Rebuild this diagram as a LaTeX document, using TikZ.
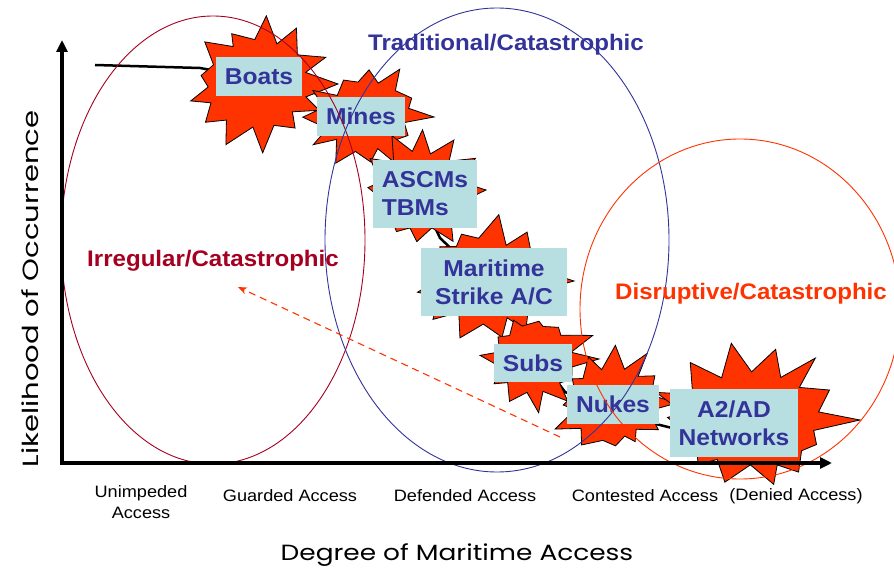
\documentclass[tikz,border=0pt]{standalone}
\usepackage{fontspec}
\setmainfont{Liberation Sans}
\newfontfamily\lblfont{Liberation Sans}[FakeStretch=1.07]
\newfontfamily\tickfont{Liberation Sans}[FakeStretch=1.1]
\newfontfamily\axisfont{Poppins}[FakeStretch=1.2]
\newfontfamily\axisfontwide{Poppins}[FakeStretch=1.32]
\usetikzlibrary{arrows.meta}
\definecolor{boxfill}{HTML}{B7DEE0}
\definecolor{navy}{HTML}{333399}
\definecolor{burstred}{HTML}{FF3300}
\definecolor{wine}{HTML}{A50021}
\tikzset{
  burststyle/.style={fill=burstred, draw=black, line width=0.8pt, line join=miter},
  threat/.style={fill=boxfill, text=navy, inner sep=0pt, align=center,
    font=\lblfont\bfseries\fontsize{23}{28}\selectfont},
  catlabel/.style={font=\lblfont\bfseries\fontsize{22.5}{27}\selectfont, inner sep=0pt},
  ticklabel/.style={font=\tickfont\fontsize{16.5}{21}\selectfont, inner sep=0pt, align=center},
  axistitle/.style={font=\axisfont\fontsize{22}{26}\selectfont, inner sep=0pt},
  axisline/.style={line width=3.5pt, -{Triangle[length=12pt,width=11pt]}},
  trend/.style={line width=2.5pt, black},
  zone/.style={line width=0.9pt},
  drift/.style={burstred, line width=1.1pt, dash pattern=on 7pt off 5pt, -{Stealth[length=9pt,width=7pt]}}
}
\newcommand\burstshape[6]{%
  \pgfmathsetseed{#6}%
  \draw[burststyle] ({#1+#3},{#2})
    \foreach \k [evaluate=\k as \ang using {\k*360/(#5+1)+5*rand},
                 evaluate=\k as \rad using {ifthenelse(mod(\k,2)==0,0.84+0.16*rand,0.61+0.04*rand)}] in {1,...,#5}
    { -- ({#1+#3*\rad*cos(\ang)},{#2+#4*\rad*sin(\ang)}) } -- cycle;
}
\begin{document}
\begin{tikzpicture}[x=1pt,y=-1pt]
\useasboundingbox (0,0) rectangle (894,572);
\clip (0,0) rectangle (894,572);
\fill[white] (0,0) rectangle (894,572);

% trend curve
\coordinate (c0) at (95,65);
\coordinate (c1) at (200,68);
\coordinate (c2) at (300,86);
\coordinate (c3) at (345,108);
\coordinate (c4) at (390,145);
\coordinate (c5) at (420,195);
\coordinate (c6) at (440,238);
\coordinate (c7) at (500,295);
\coordinate (c8) at (530,345);
\coordinate (c9) at (565,392);
\coordinate (c10) at (620,415);
\coordinate (c11) at (720,440);
\draw[trend] (c0) -- (c1) -- (c2) -- (c3) -- (c4) -- (c5) -- (c6) -- (c7) -- (c8) -- (c9) -- (c10) -- (c11);

% bursts
\burstshape{258}{84}{80}{70}{25}{11}
\burstshape{366}{117}{68}{56}{23}{23}
\burstshape{420}{190}{66}{61}{23}{37}
\burstshape{488}{281}{86}{67}{25}{41}
\burstshape{536}{359}{63}{54}{23}{53}
\burstshape{612}{403}{65}{60}{23}{67}
\burstshape{748}{420}{112}{78}{27}{79}

% threat boxes
\node[threat, minimum width=86pt, minimum height=39pt] (boats) at (259,76.5) {Boats};
\node[threat, minimum width=88pt, minimum height=39pt] (mines) at (361,116.5) {Mines};
\node[threat, minimum width=104pt, minimum height=68pt, align=left] (ascm) at (425,194) {ASCMs\\TBMs};
\node[threat, minimum width=146pt, minimum height=68pt] (mar) at (494,282) {Maritime\\Strike A/C};
\node[threat, minimum width=78pt, minimum height=38pt] (subs) at (533,363) {Subs};
\node[threat, minimum width=92pt, minimum height=39pt] (nukes) at (613,404.5) {Nukes};
\node[threat, minimum width=128pt, minimum height=68pt] (a2ad) at (734,423) {A2/AD\\Networks};

% zones
\draw[zone, wine] (213,240) ellipse [x radius=152pt, y radius=224pt];
\draw[zone, navy] (497,240) ellipse [x radius=172pt, y radius=232pt];
\draw[zone, burstred] (740,309) ellipse [x radius=160pt, y radius=170pt];

% axes
\coordinate (o) at (62,463);
\coordinate (ytip) at (62,40);
\coordinate (xtip) at (832,463);
\draw[axisline] (o) -- (ytip);
\draw[axisline] ([xshift=-1.75pt]o) -- (xtip);

% drift arrow
\coordinate (ds) at (560,437);
\coordinate (de) at (238,287);
\draw[drift] (ds) -- (de);

% category labels
\node[catlabel, text=navy] (trad) at (506,45) {Traditional/Catastrophic};
\node[catlabel, text=wine] (irr) at (213,261) {Irregular/Catastrophic};
\node[catlabel, text=burstred] (dis) at (751,294) {Disruptive/Catastrophic};

% tick labels
\node[ticklabel] (t1) at (141,502) {Unimpeded\\Access};
\node[ticklabel] (t2) at (290,496) {Guarded Access};
\node[ticklabel] (t3) at (465,496) {Defended Access};
\node[ticklabel] (t4) at (645,496) {Contested Access};
\node[ticklabel] (t5) at (796,496) {(Denied Access)};

% axis titles
\node[axistitle] (xt) at (457,555) {Degree of Maritime Access};
\node[axistitle, font=\axisfontwide\fontsize{22}{26}\selectfont, rotate=90] (yt) at (30,289) {Likelihood of Occurrence};
\end{tikzpicture}
\end{document}
